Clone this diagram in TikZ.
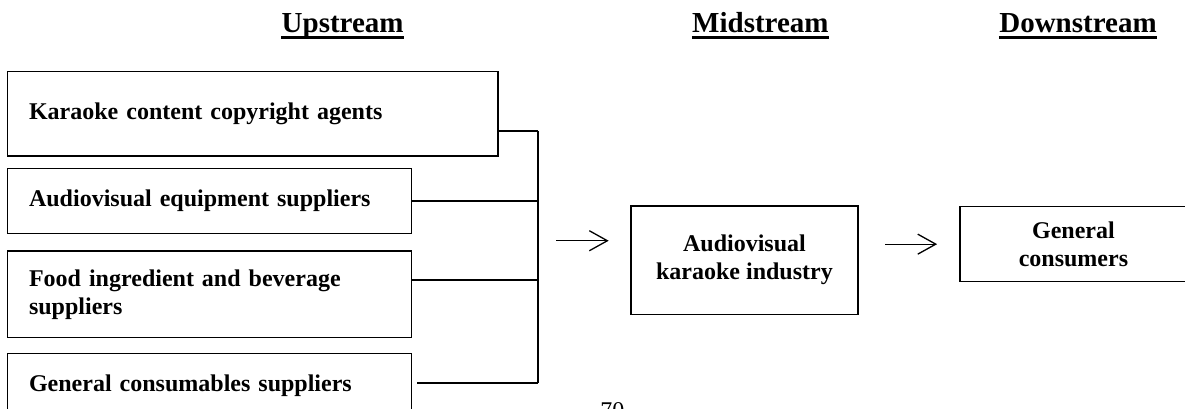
\documentclass[tikz,border=0pt]{standalone}
\usepackage{fontspec}
\setmainfont{Liberation Serif}
\usepackage{tikz}
\usetikzlibrary{arrows.meta}

\begin{document}
\begin{tikzpicture}[scale=1,
		box/.style={draw, line width=0.6pt, font=\fontsize{12}{14}\selectfont\bfseries},
		upbox/.style={box, anchor=west, inner xsep=0.38cm, text width=#1, align=left},
		link/.style={line width=0.9pt},
		arr/.style={line width=0.65pt, -{Straight Barb[length=9pt,width=10pt]}}]
			% Rahmen
			\useasboundingbox (0,0) rectangle (20.82,7.17);
			\clip (0,0) rectangle (20.82,7.17);
			
			% Ueberschriften
			\foreach \x/\nm/\lbl in {6.02/up/Upstream, 13.36/mid/Midstream, 18.94/down/Downstream} {
				\node[anchor=base, inner sep=0pt, font=\fontsize{14.5}{17}\selectfont\bfseries] (h\nm) at (\x,6.60) {\lbl};
				\draw[line width=1.2pt] ([yshift=-2.5pt]h\nm.base west) -- ([yshift=-2.5pt]h\nm.base east);
			}
			
			% Zulieferer
			\node[upbox=7.86cm, minimum height=1.48cm] (k1) at (0.12,5.17) {Karaoke content copyright agents};
			\node[upbox=6.34cm, minimum height=1.14cm] (k2) at (0.12,3.64) {Audiovisual equipment suppliers};
			\node[upbox=6.34cm, minimum height=1.52cm] (k3) at (0.12,2.00) {Food ingredient and beverage\\suppliers};
			\node[upbox=6.34cm, minimum height=1.14cm] (k4) at (0.12,0.39) {General consumables suppliers};
			
			% Sammelschiene
			\coordinate (bustop) at (9.45,4.87);
			\coordinate (busbot) at (9.45,0.44);
			\draw[link] (bustop) -- (busbot);
			\draw[link] (k1.east |- bustop) -- (bustop);
			\draw[link] (k2.east) -- (k2.east -| bustop);
			\draw[link] ([yshift=0.25cm]k3.east) -- ([yshift=0.25cm]k3.east -| bustop);
			\draw[link] ([xshift=0.09cm]k4.east |- busbot) -- (busbot);
			
			% Mitte und Ende
			\node[box, minimum width=3.99cm, minimum height=1.90cm, align=center] (ind) at (13.08,2.60) {Audiovisual\\karaoke industry};
			\node[box, minimum width=3.99cm, minimum height=1.31cm, align=center] (con) at (18.86,2.88) {General\\consumers};
			
			% Pfeile
			\coordinate (feed) at (9.45,2.94);
			\draw[arr, shorten <=0.32cm, shorten >=0.38cm] (feed) -- (feed -| ind.west);
			\draw[arr, shorten <=0.47cm, shorten >=0.39cm] (ind.east |- con.west) -- (con.west);
			
			% Seitenzahl
			\node[anchor=base, font=\fontsize{12}{14}\selectfont] (seite) at (10.76,-0.18) {70};
		\end{tikzpicture}
\end{document}
